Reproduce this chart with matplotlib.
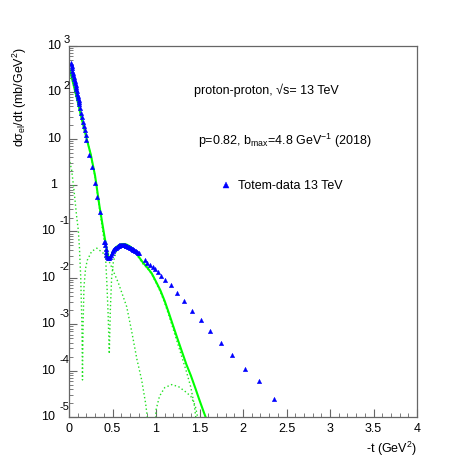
import matplotlib
matplotlib.use("Agg")
import matplotlib.pyplot as plt
from matplotlib.ticker import MultipleLocator, LogLocator, NullFormatter
from matplotlib.transforms import blended_transform_factory

plt.rcParams['font.family'] = ['Liberation Sans', 'DejaVu Sans']
plt.rcParams['mathtext.fontset'] = 'custom'
plt.rcParams['mathtext.rm'] = 'Liberation Sans'
plt.rcParams['mathtext.it'] = 'Liberation Sans:italic'
plt.rcParams['mathtext.default'] = 'regular'

# TOTEM 13 TeV data, -t in GeV^2, value in mb/GeV^2
t_data = [0.02, 0.025, 0.03, 0.035, 0.04, 0.045, 0.05, 0.055, 0.06, 0.065, 0.07,
          0.075, 0.08, 0.085, 0.09, 0.095, 0.10, 0.105, 0.11, 0.115,
          0.12, 0.13, 0.14, 0.15, 0.16, 0.17, 0.18, 0.19, 0.20,
          0.233, 0.268, 0.295, 0.325, 0.356, 0.406,
          0.410, 0.415, 0.42, 0.425, 0.43, 0.44, 0.45, 0.46, 0.47, 0.48,
          0.49, 0.50, 0.51, 0.52, 0.53, 0.54, 0.55, 0.56, 0.57, 0.58, 0.59,
          0.60, 0.61, 0.62, 0.63, 0.64, 0.65, 0.66, 0.67,
          0.68, 0.69, 0.70, 0.71, 0.72, 0.73, 0.74, 0.75, 0.76, 0.77, 0.78, 0.79, 0.80,
          0.874, 0.90, 0.931, 0.962, 0.989, 1.020, 1.057, 1.103, 1.169,
          1.241, 1.322, 1.414, 1.514, 1.621, 1.744, 1.877, 2.023, 2.184, 2.360]
sig_data = [437, 400, 363, 328, 295, 266, 240, 216, 195, 176, 158,
            143, 129, 116, 105, 94, 85, 77, 69, 62,
            56, 45, 36, 29.5, 23.4, 19.0, 15.1, 12.0, 9.5,
            4.48, 2.51, 1.13, 0.548, 0.268, 0.0606,
            0.060, 0.050, 0.042, 0.036, 0.0316, 0.0282, 0.0270, 0.0270, 0.0282, 0.0309,
            0.0339, 0.0372, 0.0398, 0.0417, 0.0432, 0.0447, 0.0462, 0.0479, 0.0490, 0.0501, 0.0507,
            0.0513, 0.0513, 0.0513, 0.0510, 0.0501, 0.0495, 0.0490, 0.0479,
            0.0468, 0.0457, 0.0447, 0.0437, 0.0427, 0.0417, 0.0407, 0.0398, 0.0389, 0.0376, 0.0363, 0.0351, 0.0339,
            0.0244, 0.0214, 0.0191, 0.0170, 0.0154, 0.0133, 0.0112, 0.0091, 0.0070,
            0.00468, 0.00315, 0.00197, 0.00122, 0.00071, 0.000397, 0.000216, 0.000109, 5.9e-05, 2.47e-05]

# model: total dsigma/dt (solid)
t_tot = [0.0, 0.05, 0.10, 0.15, 0.20, 0.25, 0.30, 0.35, 0.40, 0.43, 0.45, 0.465,
         0.48, 0.50, 0.53, 0.56, 0.60, 0.63, 0.66, 0.70, 0.75, 0.80, 0.85, 0.90,
         0.95, 1.00, 1.05, 1.10, 1.15, 1.20, 1.25, 1.30, 1.35, 1.40, 1.45, 1.50,
         1.55, 1.60]
sig_tot = [355, 151, 63, 25, 10.5, 4.6, 1.58, 0.355, 0.0955, 0.0447, 0.0302, 0.0263,
           0.0282, 0.0355, 0.0437, 0.0490, 0.0531, 0.0537, 0.0525, 0.0479, 0.0398, 0.0288,
           0.0214, 0.0166, 0.0126, 0.0083, 0.0054, 0.00316, 0.0017, 0.00089, 0.00047,
           0.000251, 0.000135, 7.9e-05, 4.3e-05, 2.3e-05, 1.26e-05, 7.1e-06]

# imaginary-part contribution (dotted)
t_im = [0.0, 0.05, 0.10, 0.15, 0.20, 0.25, 0.30, 0.35, 0.40, 0.42, 0.435, 0.45,
        0.463, 0.475, 0.49, 0.51, 0.54, 0.57, 0.60, 0.63, 0.66, 0.70, 0.75, 0.80,
        0.85, 0.90, 0.95, 1.00, 1.05, 1.10, 1.15, 1.20, 1.25, 1.30, 1.35, 1.40,
        1.44, 1.47, 1.49]
sig_im = [353, 151, 63, 25, 10.5, 4.5, 1.51, 0.316, 0.0708, 0.0282, 0.0079, 0.00158,
          0.00023, 0.002, 0.01, 0.0224, 0.0355, 0.0447, 0.0501, 0.0525, 0.0513, 0.0468,
          0.038, 0.0275, 0.020, 0.0162, 0.0120, 0.0079, 0.0050, 0.00288, 0.00151,
          0.00076, 0.00038, 0.00019, 9.5e-05, 4.4e-05, 1.8e-05, 6.3e-06, 2.0e-06]

# real-part contribution (dotted)
t_re = [0.0, 0.03, 0.057, 0.088, 0.107, 0.12, 0.135, 0.148, 0.155, 0.162, 0.172,
        0.19, 0.21, 0.26, 0.32, 0.395, 0.47, 0.567, 0.663, 0.72, 0.78, 0.835,
        0.88, 0.90, 0.92]
sig_re = [3.8, 2.14, 0.79, 0.21, 0.107, 0.0447, 0.01, 0.001, 6.3e-05, 0.001, 0.0063,
          0.0158, 0.024, 0.0372, 0.0437, 0.0339, 0.0209, 0.0078, 0.0024, 0.00071,
          0.000178, 6.3e-05, 2.0e-05, 1.0e-05, 2.5e-06]
t_re2 = [0.98, 1.00, 1.04, 1.10, 1.18, 1.26, 1.34, 1.40, 1.45, 1.49, 1.51]
sig_re2 = [2.5e-06, 1.41e-05, 2.8e-05, 4.3e-05, 5.0e-05, 4.5e-05, 3.5e-05,
           2.8e-05, 1.78e-05, 7.9e-06, 2.5e-06]

fig = plt.figure(figsize=(4.63, 4.63), dpi=100)
W = 463.0
ax = fig.add_axes([69 / W, 1 - 417 / W, 348 / W, 371 / W])

green = '#22e022'
dots = (0, (1, 1.8))
ax.plot(t_re, sig_re, color=green, lw=1.0, ls=dots)
ax.plot(t_re2, sig_re2, color=green, lw=1.0, ls=dots)
ax.plot(t_im, sig_im, color=green, lw=1.0, ls=dots)
ax.plot(t_tot, sig_tot, color='#00ff00', lw=1.5)
pts, = ax.plot(t_data, sig_data, ls='none', marker='^', color='#0000ff',
               markersize=3.2, markeredgewidth=0.3, label='Totem-data 13 TeV')

ax.set_yscale('log')
ax.set_xlim(0, 4)
ax.set_ylim(1e-5, 1e3)

for s in ax.spines.values():
    s.set_color('#666666')
    s.set_linewidth(0.9)

ax.xaxis.set_major_locator(MultipleLocator(0.5))
ax.xaxis.set_minor_locator(MultipleLocator(0.1))
ax.yaxis.set_major_locator(LogLocator(base=10, numticks=20))
ax.yaxis.set_minor_locator(LogLocator(base=10, subs=range(2, 10), numticks=20))
ax.yaxis.set_major_formatter(NullFormatter())
ax.yaxis.set_minor_formatter(NullFormatter())
ax.tick_params(which='both', direction='in', top=False, right=False,
               color='#666666', labelsize=9)
ax.tick_params(which='major', length=6, width=0.8, pad=4)
ax.tick_params(which='minor', length=3, width=0.6)
ax.set_xticks([0, 0.5, 1, 1.5, 2, 2.5, 3, 3.5, 4])
ax.set_xticklabels(['0', '0.5', '1', '1.5', '2', '2.5', '3', '3.5', '4'])

# ROOT-style log labels
tr = blended_transform_factory(fig.transFigure, ax.transData)
for e in range(-5, 4):
    v = 10.0 ** e
    if e == 0:
        ax.text(57.5 / W, v, '1', transform=tr, ha='right', va='center', fontsize=9)
    elif e == 1:
        ax.text(61 / W, v, '10', transform=tr, ha='right', va='center', fontsize=9)
    elif e > 1:
        ax.text(61 / W, v, '10', transform=tr, ha='right', va='center', fontsize=9)
        ax.text(63.5 / W, v * 10 ** (6 / 46.4), str(e), transform=tr,
                ha='left', va='center', fontsize=8)
    else:
        ax.text(55 / W, v, '10', transform=tr, ha='right', va='center', fontsize=9)
        ax.text(59.5 / W, v * 10 ** (10.5 / 46.4), str(e), transform=tr,
                ha='left', va='center', fontsize=8)

fig.text(20 / W, 1 - 47 / W, r'd$\sigma_{el}$/dt (mb/GeV$^{2}$)', rotation=90,
         ha='center', va='top', fontsize=9)
fig.text(417 / W, 1 - 449 / W, r'-t (GeV$^{2}$)', ha='right', va='center', fontsize=9)

fig.text(266 / W, 1 - 90 / W, 'proton-proton, \u221as= 13 TeV', ha='center',
         va='center', fontsize=9)
fig.text(198 / W, 1 - 141 / W, r'p=0.82, b$_{max}$=4.8 GeV$^{-1}$ (2018)',
         ha='left', va='center', fontsize=9)
fig.legend(handles=[pts], loc='center left', bbox_to_anchor=(220 / W, 1 - 186 / W),
           frameon=False, fontsize=9, handlelength=1.0, handletextpad=0.4,
           borderpad=0, borderaxespad=0, markerscale=1.3)

fig.savefig('out.png', dpi=100)
